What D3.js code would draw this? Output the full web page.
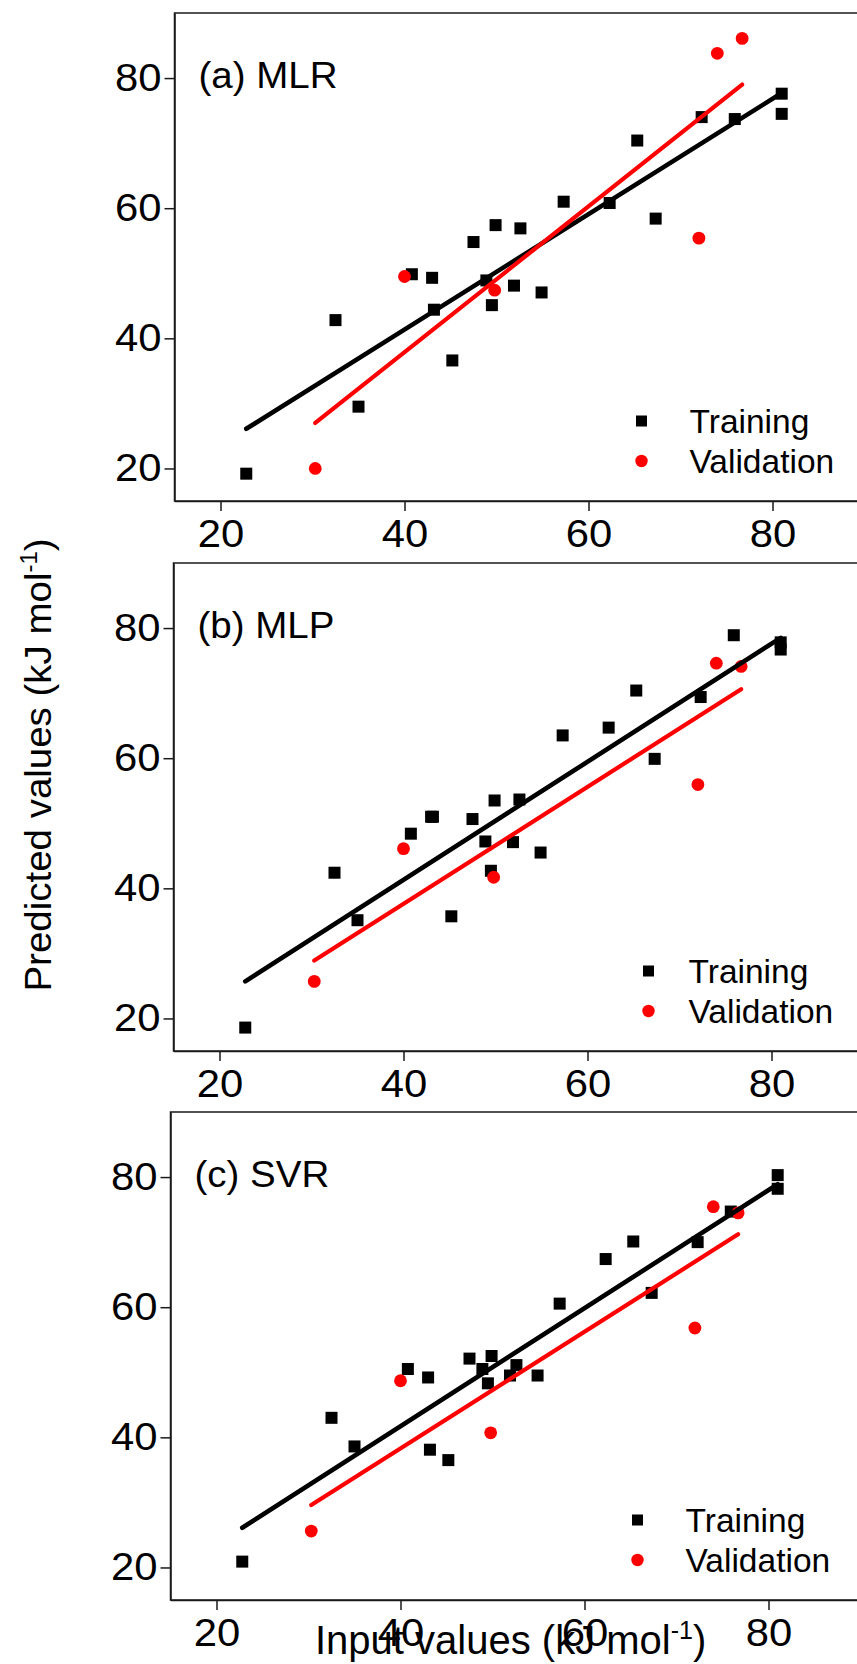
<!DOCTYPE html>
<html>
<head>
<meta charset="utf-8">
<script src="https://cdn.jsdelivr.net/npm/d3@7"></script>
<style>
  html, body { margin: 0; padding: 0; background: #fff; }
  svg { display: block; }
  text { font-family: Arial, "Liberation Sans", sans-serif; fill: #000; }
  .axis path, .axis line { stroke: #1a1a1a; stroke-width: 1.5; }
</style>
</head>
<body>
<div id="chart"></div>
<script>
// measured input values (shared by all three panels)
const inputTrain = [22.8, 32.5, 35.0, 40.8, 43.0, 43.2, 45.2, 47.5, 48.9, 49.5, 49.9,
  51.9, 52.6, 54.9, 57.3, 62.3, 65.3, 67.3, 72.3, 75.9, 81.0, 81.0];
const inputValid = [30.3, 40.0, 49.8, 72.0, 74.0, 76.7];

// predicted values, one list per model
const mlrTrain = [19.2, 42.8, 29.5, 49.85, 49.3, 44.4, 36.6, 54.8, 48.9, 45.1, 57.4,
  48.1, 56.9, 47.05, 61.0, 60.8, 70.4, 58.4, 74.0, 73.7, 77.6, 74.5];
const mlrValid = [20.0, 49.5, 47.4, 55.4, 83.8, 86.1];
const mlpTrain = [18.6, 42.4, 35.1, 48.4, 51.0, 51.0, 35.7, 50.65, 47.2, 42.7, 53.5,
  47.1, 53.65, 45.5, 63.5, 64.7, 70.4, 59.9, 69.4, 78.9, 77.8, 76.7];
const mlpValid = [25.7, 46.1, 41.7, 55.95, 74.6, 74.1];
const svrTrain = [20.9, 43.0, 38.6, 50.5, 49.2, 38.1, 36.5, 52.1, 50.5, 48.3, 52.5,
  49.5, 51.1, 49.5, 60.55, 67.4, 70.1, 62.2, 70.0, 74.7, 80.3, 78.2];
const svrValid = [25.6, 48.7, 40.7, 56.8, 75.45, 74.5];

// fitted lines, [x, y] end points
const mlrFitTrain = [[22.8, 26.1], [81.0, 77.7]];
const mlrFitValid = [[30.3, 27.0], [76.7, 79.0]];
const mlpFitTrain = [[22.8, 25.7], [81.0, 78.5]];
const mlpFitValid = [[30.3, 28.9], [76.7, 70.6]];
const svrFitTrain = [[22.8, 26.1], [81.0, 78.9]];
const svrFitValid = [[30.3, 29.6], [76.7, 71.2]];

const panelNames = ["(a) MLR", "(b) MLP", "(c) SVR"];
const legendLabels = ["Training", "Validation"];
const xTicks = [20, 40, 60, 80];
const yTicks = [20, 40, 60, 80];
const axisDomain = [15, 90];

const panels = [
  { name: panelNames[0], train: mlrTrain, valid: mlrValid, fitTrain: mlrFitTrain, fitValid: mlrFitValid },
  { name: panelNames[1], train: mlpTrain, valid: mlpValid, fitTrain: mlpFitTrain, fitValid: mlpFitValid },
  { name: panelNames[2], train: svrTrain, valid: svrValid, fitTrain: svrFitTrain, fitValid: svrFitValid },
];

// layout (pixels)
const width = 857;
const height = 1664;
const plotW = 690;
const plotH = 488;
const layout = [
  { left: 174.5, top: 13, legendX: 467 },
  { left: 173.5, top: 563, legendX: 475 },
  { left: 170.5, top: 1112, legendX: 467 },
];
const red = "#ff0000";

const svg = d3
  .select("#chart")
  .append("svg")
  .attr("width", width)
  .attr("height", height)
  .attr("viewBox", `0 0 ${width} ${height}`);

panels.forEach((p, i) => {
  const { left, top, legendX } = layout[i];
  const x = d3.scaleLinear().domain(axisDomain).range([0, plotW]);
  const y = d3.scaleLinear().domain(axisDomain).range([plotH, 0]);

  const g = svg.append("g").attr("transform", `translate(${left},${top})`);

  // frame (right side falls outside the picture, as in the original)
  g.append("rect")
    .attr("width", plotW)
    .attr("height", plotH)
    .attr("fill", "none")
    .attr("stroke", "#1a1a1a")
    .attr("stroke-width", 1.5);

  const gx = g
    .append("g")
    .attr("class", "axis")
    .attr("transform", `translate(0,${plotH})`)
    .call(d3.axisBottom(x).tickValues(xTicks).tickSize(10).tickSizeOuter(0).tickPadding(9));
  gx.attr("font-size", 38).attr("font-family", null);
  gx.selectAll("text").attr("transform", "scale(1.1,1)");

  const gy = g
    .append("g")
    .attr("class", "axis")
    .call(d3.axisLeft(y).tickValues(yTicks).tickSize(10).tickSizeOuter(0));
  gy.attr("font-size", 38).attr("font-family", null);
  gy.selectAll("text").attr("x", 0).attr("transform", "translate(-13,0) scale(1.1,1)");

  // markers
  g.selectAll(".train")
    .data(inputTrain.map((v, k) => [v, p.train[k]]))
    .join("rect")
    .attr("class", "train")
    .attr("x", (d) => x(d[0]) - 6)
    .attr("y", (d) => y(d[1]) - 6)
    .attr("width", 12)
    .attr("height", 12)
    .attr("fill", "#000");

  g.selectAll(".valid")
    .data(inputValid.map((v, k) => [v, p.valid[k]]))
    .join("circle")
    .attr("class", "valid")
    .attr("cx", (d) => x(d[0]))
    .attr("cy", (d) => y(d[1]))
    .attr("r", 6.4)
    .attr("fill", red);

  // fitted lines
  const line = d3.line().x((d) => x(d[0])).y((d) => y(d[1]));
  g.append("path")
    .attr("d", line(p.fitTrain))
    .attr("fill", "none")
    .attr("stroke", "#000")
    .attr("stroke-width", 4.6)
    .attr("stroke-linecap", "round");
  g.append("path")
    .attr("d", line(p.fitValid))
    .attr("fill", "none")
    .attr("stroke", red)
    .attr("stroke-width", 4.2)
    .attr("stroke-linecap", "round");

  // panel label
  g.append("text")
    .attr("transform", "translate(24,75) scale(1.07,1)")
    .attr("font-size", 36)
    .text(p.name);

  // legend
  const lg = g.append("g").attr("transform", `translate(${legendX},408)`);
  lg.append("rect").attr("x", -5.5).attr("y", -5.5).attr("width", 11).attr("height", 11).attr("fill", "#000");
  lg.append("circle").attr("cx", 0).attr("cy", 40).attr("r", 6.2).attr("fill", red);
  lg.selectAll("text")
    .data(legendLabels)
    .join("text")
    .attr("x", 515 - legendX)
    .attr("y", (d, k) => 12 + k * 40)
    .attr("font-size", 33.5)
    .text((d) => d);
});

// y axis title
const yTitle = svg
  .append("text")
  .attr("transform", "translate(51,765) rotate(-90) scale(1.04,1)")
  .attr("text-anchor", "middle")
  .attr("font-size", 37);
yTitle.append("tspan").text("Predicted values (kJ mol");
yTitle.append("tspan").attr("font-size", 23).attr("dy", -14).text("-1");
yTitle.append("tspan").attr("dy", 14).text(")");

// x axis title
const xTitle = svg
  .append("text")
  .attr("x", 315)
  .attr("y", 1654)
  .attr("font-size", 40);
xTitle.append("tspan").text("Input values (kJ mol");
xTitle.append("tspan").attr("font-size", 25).attr("dy", -15).text("-1");
xTitle.append("tspan").attr("dy", 15).text(")");
</script>
</body>
</html>
